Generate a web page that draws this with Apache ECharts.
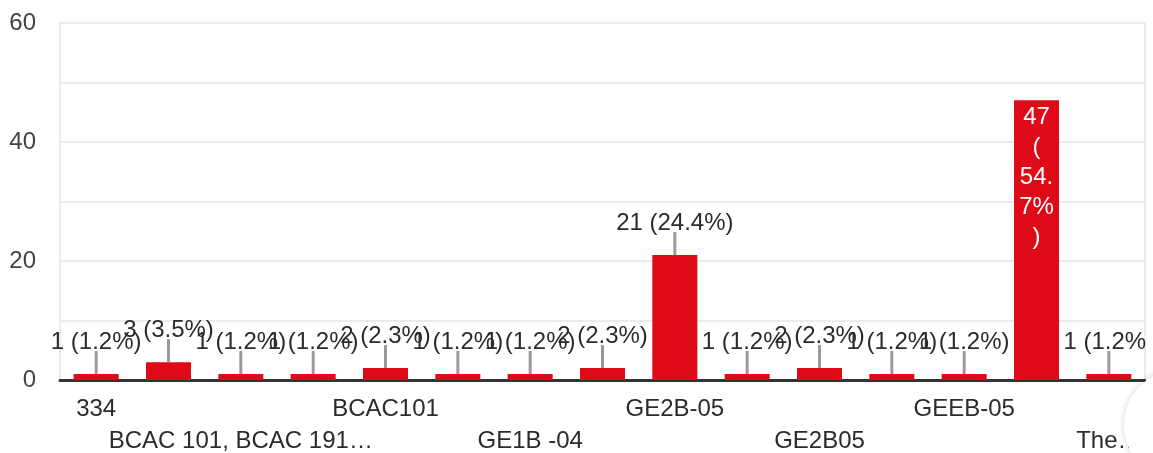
<!DOCTYPE html>
<html>
<head>
<meta charset="utf-8">
<script src="https://cdn.jsdelivr.net/npm/echarts@6/dist/echarts.min.js"></script>
<style>
  html, body { margin: 0; padding: 0; background: #fff; }
  #chart { width: 1153px; height: 453px; }
</style>
</head>
<body>
<div id="chart"></div>
<script>
// Responses per course code
const categories = [
  '334', 'BCAC 101', 'BCAC 101, BCAC 191…', 'BCAC 191', 'BCAC101',
  'BCAC191', 'GE1B -04', 'GE1B-04', 'GE2B-05', 'GE2B-5',
  'GE2B05', 'GE3B-05', 'GEEB-05', 'GEEB05', 'The…'
];
const counts = [1, 3, 1, 1, 2, 1, 1, 2, 21, 1, 2, 1, 1, 47, 1];
const yTicks = [0, 20, 40, 60];

const total = counts.reduce((a, b) => a + b, 0);
const maxCount = Math.max(...counts);
const pct = v => (v / total * 100).toFixed(1);
const labelText = v => `${v} (${pct(v)}%)`;
// narrow in-bar label: count, then the percentage broken into short lines
const stackedText = v => {
  const p = pct(v);
  return [String(v), '(', p.slice(0, 3), p.slice(3) + '%', ')'].join('\n');
};

const FONT = 'Arial, "Liberation Sans", sans-serif';
const TEXT = '#2b2b2b';
const RED = '#de0a17';

// category labels are staggered over two rows: every other category is labelled,
// alternating between the upper and the lower row
const rowAxis = (row, margin) => ({
  type: 'category',
  data: categories,
  position: 'bottom',
  axisLine: row === 0 ? { lineStyle: { color: '#333', width: 3 } } : { show: false },
  axisTick: { show: false },
  splitLine: { show: false },
  axisLabel: {
    interval: i => i % 4 === row * 2,
    showMinLabel: true,
    showMaxLabel: true,
    hideOverlap: false,
    margin: margin,
    fontFamily: FONT,
    fontSize: 24,
    color: TEXT
  }
});

const chart = echarts.init(document.getElementById('chart'), null, { renderer: 'canvas' });

chart.setOption({
  animation: false,
  grid: {
    left: 60, right: 8, top: 23, bottom: 73,
    outerBoundsMode: 'none',
    containLabel: false,
    show: true, borderColor: '#ebebeb', borderWidth: 2, backgroundColor: 'transparent'
  },
  xAxis: [rowAxis(0, 17), rowAxis(1, 49)],
  yAxis: {
    type: 'value',
    min: 0, max: 60, interval: 10,
    axisLine: { show: false },
    axisTick: { show: false },
    splitLine: { lineStyle: { color: '#ebebeb', width: 2 } },
    axisLabel: {
      margin: 24,
      fontFamily: FONT,
      fontSize: 24,
      color: '#444',
      formatter: v => (yTicks.includes(v) ? String(v) : '')
    }
  },
  series: [
    {
      type: 'bar',
      xAxisIndex: 0,
      data: counts,
      barWidth: 45,
      itemStyle: { color: RED },
      label: {
        show: true,
        position: 'insideTop',
        distance: 2,
        color: '#fff',
        fontFamily: FONT,
        fontSize: 24,
        lineHeight: 30,
        formatter: p => (p.value === maxCount ? stackedText(p.value) : '')
      },
      z: 2
    },
    {
      // leader lines and value labels above the smaller bars
      type: 'custom',
      xAxisIndex: 0,
      data: counts.map((v, i) => [i, v]),
      clip: false,
      z: 3,
      renderItem: (params, api) => {
        const v = api.value(1);
        if (v === maxCount) return null;
        const p = api.coord([api.value(0), v]);
        return {
          type: 'group',
          children: [
            {
              type: 'line',
              shape: { x1: p[0], y1: p[1], x2: p[0], y2: p[1] - 23 },
              style: { stroke: '#9a9a9a', lineWidth: 3 }
            },
            {
              type: 'text',
              style: {
                text: labelText(v),
                x: p[0], y: p[1] - 20,
                align: 'center', verticalAlign: 'bottom',
                font: `24px ${FONT}`,
                fill: TEXT
              }
            }
          ]
        };
      }
    }
  ],
  graphic: [
    {
      type: 'rect',
      z: 100,
      shape: { x: 1146, y: 0, width: 10, height: 395 },
      style: { fill: '#fff' }
    },
    {
      type: 'circle',
      z: 101,
      shape: { cx: 1180, cy: 425, r: 56 },
      style: { fill: '#fff', shadowBlur: 6, shadowColor: 'rgba(0,0,0,0.18)' }
    }
  ]
});
</script>
</body>
</html>
